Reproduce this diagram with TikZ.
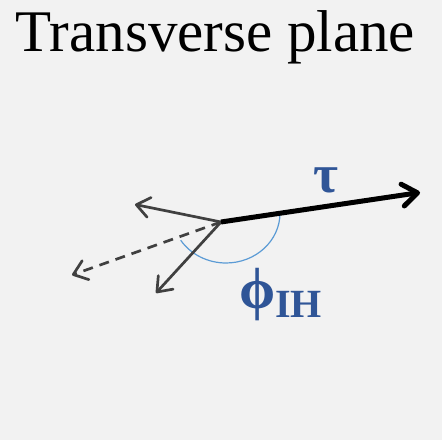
\documentclass[tikz,border=0pt]{standalone}
\usepackage{fontspec}
\setmainfont{Liberation Serif}
\usetikzlibrary{arrows.meta}
\definecolor{bgc}{HTML}{F2F2F2}
\definecolor{arrgray}{HTML}{404040}
\definecolor{labblue}{HTML}{2F5597}
\definecolor{arcblue}{HTML}{5B9BD5}
\tikzset{
  vec/.style={draw=arrgray, line width=2.7pt, -{Straight Barb[length=13pt,width=20pt,line width=2.7pt,round]}},
  tauvec/.style={draw=black, line width=5pt, -{Straight Barb[length=15pt,width=22pt,line width=5pt,round]}},
  lab/.style={text=labblue, font=\bfseries, inner sep=0pt},
}
\begin{document}
\begin{tikzpicture}[x=1pt,y=1pt]
\fill[bgc] (0,0) rectangle (442,440);
\useasboundingbox (0,0) rectangle (442,440);
\node[anchor=base, inner sep=0pt, font=\fontsize{59}{62}\selectfont] (title) at (215.5,388) {Transverse plane};
\coordinate (O) at (221,218);
\coordinate (tau) at (420,247.5);
\coordinate (ul) at (135,235.5);
\coordinate (dl) at (156,147);
\coordinate (dash) at (72,165);
\draw[arcblue, line width=1.2pt] (280,227) arc[start angle=0, end angle=-147, x radius=54, y radius=50];
\draw[vec] (O) -- (ul);
\draw[vec] (O) -- (dl);
\draw[vec, dash pattern=on 10pt off 7pt] (O) -- (dash);
\draw[tauvec] (O) -- (tau);
\node[lab, font=\fontsize{54}{56}\selectfont\bfseries] (taulab) at (326,260) {τ};
\node[lab, font=\fontsize{58}{60}\selectfont\bfseries, anchor=west] (phi) at (239,145) {ϕ\raisebox{-9pt}{\fontsize{40}{40}\selectfont IH}};
\end{tikzpicture}
\end{document}
